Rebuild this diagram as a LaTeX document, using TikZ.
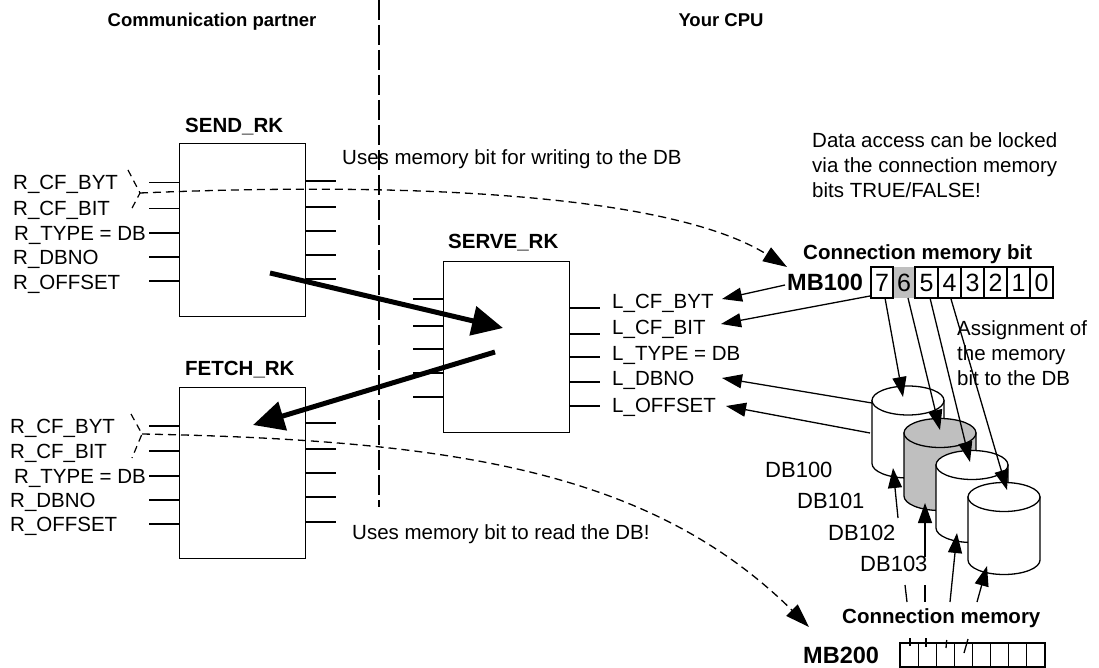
\documentclass[tikz,border=0pt]{standalone}
\usepackage{fontspec}
\setmainfont{Liberation Sans}
\usetikzlibrary{arrows.meta}
\newcommand{\dbcyl}[3]{%
  \path[draw, line width=1.3pt, fill=#3] (#1-36,#2) -- (#1-36,#2+63) arc[start angle=180, end angle=0, x radius=36, y radius=14.5] -- (#1+36,#2) -- cycle;
  \path[draw, line width=1.3pt, fill=#3] (#1,#2) ellipse [x radius=36, y radius=14.5];
}
\begin{document}
\begin{tikzpicture}[x=1pt,y=-1pt,
  lab/.style={font=\fontsize{20.5}{25}\selectfont, inner sep=0pt, anchor=base west},
  labr/.style={font=\fontsize{20.5}{25}\selectfont, inner sep=0pt, anchor=base east},
  ttl/.style={font=\fontsize{20.5}{25}\selectfont\bfseries, inner sep=0pt, anchor=base west},
  hdr/.style={font=\fontsize{18.5}{22}\selectfont\bfseries, inner sep=0pt, anchor=base},
  mbl/.style={font=\fontsize{23.5}{28}\selectfont\bfseries, inner sep=0pt, anchor=base west},
  dbl/.style={font=\fontsize{22}{26}\selectfont, inner sep=0pt, anchor=base west},
  dig/.style={font=\fontsize{25}{28}\selectfont, inner sep=0pt, anchor=base},
  blk/.style={draw, line width=1pt, inner sep=0pt, outer sep=0pt, anchor=north west},
  pinl/.style={line width=1.5pt},
  bigarrow/.style={line width=5pt, -{Triangle[length=31pt,width=29pt]}},
  sarrow/.style={line width=1.3pt, -{Triangle[length=20pt,width=14pt]}},
  darrow/.style={line width=1.3pt, dash pattern=on 8pt off 5pt, -{Triangle[length=24pt,width=16pt]}},
  brc/.style={line width=1.2pt, dash pattern=on 7pt off 5pt}
]
\useasboundingbox (0,0) rectangle (1099,668);
\fill[white] (0,0) rectangle (1099,668);

% headers and separator
\node[hdr] (hcp) at (212,27) {Communication partner};
\node[hdr] (hcpu) at (721,27) {Your CPU};
\coordinate (sepT) at (379,0);
\coordinate (sepB) at (379,507);
\draw[line width=1.2pt, dash pattern=on 20pt off 5pt] (sepT) -- (sepB);

% blocks
\node[blk, minimum width=126pt, minimum height=172pt] (send) at (179,144) {};
\node[blk, minimum width=126pt, minimum height=171pt] (fetch) at (179,387) {};
\node[blk, minimum width=126pt, minimum height=171pt] (serve) at (443,261) {};
\node[ttl] (tsend) at (185,133) {SEND\_RK};
\node[ttl] (tfetch) at (185,375) {FETCH\_RK};
\node[ttl] (tserve) at (448,248) {SERVE\_RK};

% pins
\foreach \y in {182.5,208.5,233,257,281} \draw[pinl] (149,\y) -- (179,\y);
\foreach \y in {181,207,231,255,279} \draw[pinl] (305,\y) -- (336,\y);
\foreach \y in {426,451,476,500,524} \draw[pinl] (149,\y) -- (179,\y);
\foreach \y in {423,449,473,497,522} \draw[pinl] (305,\y) -- (336,\y);
\foreach \y in {299,326,349,373,397} \draw[pinl] (413,\y) -- (443,\y);
\foreach \y in {308,334,357,382,406} \draw[pinl] (569,\y) -- (600,\y);

% SEND labels
\node[lab] (s1) at (13,190) {R\_CF\_BYT};
\node[lab] (s2) at (13,216) {R\_CF\_BIT};
\node[labr] (s3) at (146,240.5) {R\_TYPE = DB};
\node[lab] (s4) at (13,264.5) {R\_DBNO};
\node[lab] (s5) at (13,289.5) {R\_OFFSET};
% FETCH labels
\node[lab] (f1) at (10,433.5) {R\_CF\_BYT};
\node[lab] (f2) at (10,458.5) {R\_CF\_BIT};
\node[labr] (f3) at (146,483.5) {R\_TYPE = DB};
\node[lab] (f4) at (10,507.5) {R\_DBNO};
\node[lab] (f5) at (10,531.5) {R\_OFFSET};
% SERVE labels
\node[lab] (l1) at (612,308.5) {L\_CF\_BYT};
\node[lab] (l2) at (612,334.5) {L\_CF\_BIT};
\node[lab] (l3) at (612,360.5) {L\_TYPE = DB};
\node[lab] (l4) at (612,385.5) {L\_DBNO};
\node[lab] (l5) at (612,412.5) {L\_OFFSET};

% braces
\coordinate (sbr) at (140,193);
\coordinate (fbr) at (142,434);
\draw[brc] (128,170) -- (sbr) -- (130,212);
\draw[brc] (131,414) -- (fbr) -- (132,458);

% texts
\node[lab] (uw) at (342,164.5) {Uses memory bit for writing to the DB};
\node[lab] (ur) at (352,539.5) {Uses memory bit to read the DB!};
\node[lab] (da1) at (812,148) {Data access can be locked};
\node[lab] (da2) at (812,173) {via the connection memory};
\node[lab] (da3) at (812,198) {bits TRUE/FALSE!};
\node[ttl] (cmb) at (803,259) {Connection memory bit};
\node[mbl] (mb100) at (787,290) {MB100};
\node[ttl] (cm) at (842,623) {Connection memory};
\node[mbl] (mb200) at (803,663) {MB200};

% MB100 cells
\fill[black!25] (893,267) rectangle (915,298);
\draw[line width=1.2pt] (871,267) rectangle (893,298);
\foreach \i in {0,...,5} \draw[line width=1.2pt] (915+23*\i,267) rectangle (938+23*\i,298);
\node[dig] (b7) at (882,291) {7};
\node[dig] (b6) at (904,291) {6};
\node[dig] (b5) at (926.5,291) {5};
\node[dig] (b4) at (949.5,291) {4};
\node[dig] (b3) at (972.5,291) {3};
\node[dig] (b2) at (995.5,291) {2};
\node[dig] (b1) at (1018.5,291) {1};
\node[dig] (b0) at (1041.5,291) {0};

% MB200 cells
\foreach \i in {0,...,7} \draw[line width=1.2pt] (900+18.125*\i,643) rectangle (918.125+18.125*\i,667);

% assignment text
\node[lab] (as1) at (957,335) {Assignment of};
\node[lab] (as2) at (957,360) {the memory};
\node[lab] (as3) at (957,385) {bit to the DB};

% cylinders
\dbcyl{908}{400.5}{white}
\dbcyl{940}{433}{black!25}
\dbcyl{972}{465}{white}
\dbcyl{1004}{497}{white}
\node[dbl] (db100) at (765,477) {DB100};
\node[dbl] (db101) at (797,508.5) {DB101};
\node[dbl] (db102) at (828,540) {DB102};
\node[dbl] (db103) at (860,571.5) {DB103};

% dashed curves
\coordinate (mbtip) at (787,267);
\coordinate (mb2tip) at (809,627);
\draw[darrow] (sbr) .. controls (450,180) and (680,200) .. (mbtip);
\draw[darrow] (fbr) .. controls (450,440) and (650,470) .. (mb2tip);

% big arrows
\coordinate (a1s) at (270,273);
\coordinate (a1e) at (503,328);
\coordinate (a2s) at (495,352);
\coordinate (a2e) at (253,425);
\draw[bigarrow] (a1s) -- (a1e);
\draw[bigarrow] (a2s) -- (a2e);

% MB100 to L_ pins
\draw[sarrow] (785,285) -- (722,299);
\draw[sarrow] (870,296) -- (721,324);
% DB100 to L_ pins
\draw[sarrow] (872,403) -- (722,378);
\draw[sarrow] (870,433) -- (726,406);
% bits to DBs
\draw[sarrow] (885,298) -- (903,397);
\draw[sarrow] (908,298) -- (940,430);
\draw[sarrow] (930,298) -- (970,462);
\draw[sarrow] (951,299) -- (1007,490);
% MB200 to DBs
\draw[line width=1.3pt] (910,638) -- (910,646);
\draw[line width=1.3pt] (926,638) -- (926,647);
\draw[line width=1.3pt] (946.7,640) -- (946,648);
\draw[line width=1.3pt] (968,639) -- (964,653);
\draw[line width=1.3pt] (905,585) -- (907,602);
\draw[line width=1.3pt] (925,585) -- (925,602);
\draw[sarrow] (898,518) -- (893,468);
\draw[sarrow] (925,557) -- (925,503);
\draw[sarrow] (950,602) -- (957,533);
\draw[sarrow] (977,602) -- (987,566);
\end{tikzpicture}
\end{document}
